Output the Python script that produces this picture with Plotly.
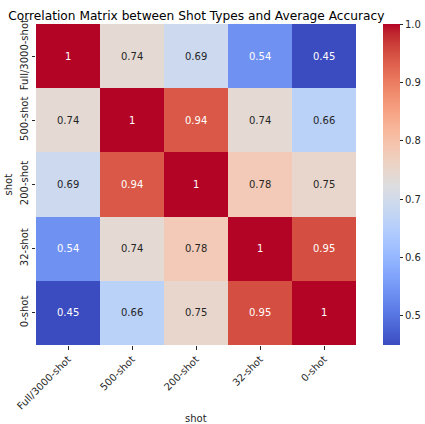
import plotly.graph_objects as go
import numpy as np

labels = ["Full/3000-shot", "500-shot", "200-shot", "32-shot", "0-shot"]
row_full = [1.00, 0.74, 0.69, 0.54, 0.45]
row_500 = [0.74, 1.00, 0.94, 0.74, 0.66]
row_200 = [0.69, 0.94, 1.00, 0.78, 0.75]
row_32 = [0.54, 0.74, 0.78, 1.00, 0.95]
row_0 = [0.45, 0.66, 0.75, 0.95, 1.00]
z = [row_full, row_500, row_200, row_32, row_0]

cw = [
    (0.0, (59, 76, 192)), (0.03125, (68, 90, 204)), (0.0625, (77, 104, 215)),
    (0.09375, (87, 117, 225)), (0.125, (98, 130, 234)), (0.15625, (108, 142, 241)),
    (0.1875, (119, 154, 247)), (0.21875, (130, 165, 251)), (0.25, (141, 176, 254)),
    (0.28125, (152, 185, 255)), (0.3125, (163, 194, 255)), (0.34375, (174, 201, 253)),
    (0.375, (184, 208, 249)), (0.40625, (194, 213, 244)), (0.4375, (204, 217, 238)),
    (0.46875, (213, 219, 230)), (0.5, (221, 221, 221)), (0.53125, (229, 216, 209)),
    (0.5625, (236, 211, 197)), (0.59375, (241, 204, 185)), (0.625, (245, 196, 173)),
    (0.65625, (247, 187, 160)), (0.6875, (247, 177, 148)), (0.71875, (247, 166, 135)),
    (0.75, (244, 154, 123)), (0.78125, (241, 141, 111)), (0.8125, (236, 127, 99)),
    (0.84375, (229, 112, 88)), (0.875, (222, 96, 77)), (0.90625, (213, 80, 66)),
    (0.9375, (203, 62, 56)), (0.96875, (192, 40, 47)), (1.0, (180, 4, 38)),
]
colorscale = [[p, "rgb(%d,%d,%d)" % c] for p, c in cw]

zarr = np.array(z)
zmin, zmax = zarr.min(), zarr.max()

def color_at(v):
    t = (v - zmin) / (zmax - zmin)
    ps = [p for p, _ in cw]
    cs = np.array([c for _, c in cw], dtype=float)
    return [np.interp(t, ps, cs[:, k]) for k in range(3)]

def lum(rgb):
    def ch(c):
        c = c / 255
        return c / 12.92 if c <= 0.04045 else ((c + 0.055) / 1.055) ** 2.4
    r, g, b = [ch(c) for c in rgb]
    return 0.2126 * r + 0.7152 * g + 0.0722 * b

fig = go.Figure(go.Heatmap(
    z=z, x=labels, y=labels, zmin=zmin, zmax=zmax,
    colorscale=colorscale, xgap=0, ygap=0,
    colorbar=dict(x=1.084, xanchor="left", xpad=0, ypad=0, y=0.5, len=1, lenmode="fraction",
                  thickness=17, outlinewidth=0, ticks="outside", ticklen=3.5,
                  tickcolor="#262626", tickvals=[0.5, 0.6, 0.7, 0.8, 0.9, 1.0],
                  ticktext=["0.5", "0.6", "0.7", "0.8", "0.9", "1.0"],
                  tickfont=dict(size=10, color="#262626")),
))

annots = []
for i, r in enumerate(labels):
    for j, c in enumerate(labels):
        v = z[i][j]
        txt = "1" if v == 1 else ("%.2f" % v).rstrip("0")
        col = "#ffffff" if lum(color_at(v)) < 0.408 else "#262626"
        annots.append(dict(x=c, y=r, text=txt, showarrow=False,
                           font=dict(size=10, color=col)))

# axis titles
annots.append(dict(text="shot", xref="paper", yref="paper", x=0.5, y=-0.228,
                   xanchor="center", yanchor="middle", showarrow=False,
                   font=dict(size=10, color="#262626")))
annots.append(dict(text="shot", xref="paper", yref="paper", x=-0.0875, y=0.5,
                   xanchor="center", yanchor="middle", textangle=-90, showarrow=False,
                   font=dict(size=10, color="#262626")))

fig.update_layout(
    width=425, height=424,
    margin=dict(l=36, r=69, t=24, b=79, autoexpand=False),
    paper_bgcolor="white", plot_bgcolor="white",
    font=dict(family="DejaVu Sans", color="#262626"),
    title=dict(text="Correlation Matrix between Shot Types and Average Accuracy",
               x=0.462, xanchor="center", y=0.962, yanchor="middle",
               font=dict(size=12.2, color="#000000")),
    annotations=annots,
    xaxis=dict(automargin=False,
               tickangle=-45, ticks="outside", ticklen=3.5, tickcolor="#262626",
               tickfont=dict(size=10), showgrid=False, zeroline=False, showline=False),
    yaxis=dict(automargin=False,
               autorange="reversed", tickangle=-90, ticks="outside", ticklen=3.5,
               tickcolor="#262626", tickfont=dict(size=10),
               showgrid=False, zeroline=False, showline=False),
)

fig.write_html("out.html", config={"displayModeBar": False},
               post_script="document.body.style.margin='0';")
